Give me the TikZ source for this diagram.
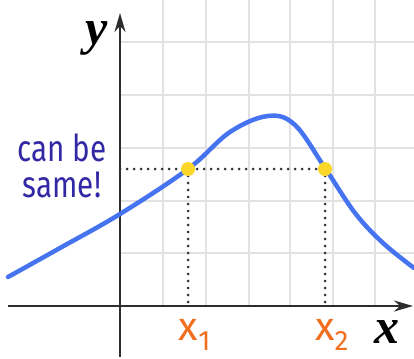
\documentclass[tikz,border=0pt]{standalone}
\usepackage{fontspec}
\setmainfont{Liberation Serif}
\newfontfamily\comicfont{Fira Sans}
\usetikzlibrary{arrows.meta}
\definecolor{gridgray}{RGB}{226,226,226}
\definecolor{axisgray}{RGB}{45,45,45}
\definecolor{curveblue}{RGB}{70,115,240}
\definecolor{notepurple}{RGB}{50,40,165}
\definecolor{labelorange}{RGB}{240,110,30}
\definecolor{dotyellow}{RGB}{250,215,40}
\tikzset{
  gridline/.style={gridgray, line width=1.5pt},
  axisline/.style={axisgray, line width=2.6pt, -{Stealth[length=19pt,width=11pt]}},
  guide/.style={black!80, line width=3pt, dash pattern=on 0pt off 7pt, line cap=round},
  curveline/.style={curveblue, line width=4.5pt, line cap=round},
  pointdot/.style={circle, fill=dotyellow, inner sep=0pt, minimum size=14pt},
  note/.style={notepurple, font=\comicfont\fontsize{37}{40}\selectfont, align=center, xscale=0.8},
  xlab/.style={labelorange, font=\comicfont\fontsize{40}{40}\selectfont, inner sep=0pt},
  axislab/.style={black, font=\bfseries\itshape\fontsize{50}{50}\selectfont, inner sep=0pt}
}
\begin{document}
\begin{tikzpicture}[x=1pt,y=-1pt]
\useasboundingbox (0,0) rectangle (414,358);
% grid
\foreach \gx in {163,206,249,290,333,375} \draw[gridline] (\gx,0) -- (\gx,306);
\foreach \gy in {42,95,148,201,253} \draw[gridline] (120,\gy) -- (414,\gy);
% named points
\coordinate (xl) at (8,306);
\coordinate (xr) at (413,306);
\coordinate (yb) at (120,357);
\coordinate (yt) at (120,13);
\coordinate (g0) at (120,169);
\coordinate (f1) at (188,306);
\coordinate (f2) at (325,306);
% axes
\draw[axisline] (xl) -- (xr);
\draw[axisline] (yb) -- (yt);
% curve
\draw[curveline] plot[smooth, tension=0.6] coordinates {(8,277) (60,248) (120,214) (188,169) (230,132) (268,116) (295,125) (325,168) (355,213) (383,243) (414,268)};
% guides
\draw[guide] (g0) -- (325,169);
\draw[guide] (188,169) -- (f1);
\draw[guide] (325,169) -- (f2);
% points
\node[pointdot] (p1) at (188,169) {};
\node[pointdot] (p2) at (325,169) {};
% labels
\node[note] (txt) at (62,166) {can be\\[-4pt]same!};
\node[xlab, anchor=base] (x1) at (195,340) {x\textsubscript{1}};
\node[xlab, anchor=base] (x2) at (332,340) {x\textsubscript{2}};
\node[axislab, anchor=base] (ylab) at (97,45) {y};
\node[axislab, anchor=base] (xlab) at (387,343) {x};
\end{tikzpicture}
\end{document}
